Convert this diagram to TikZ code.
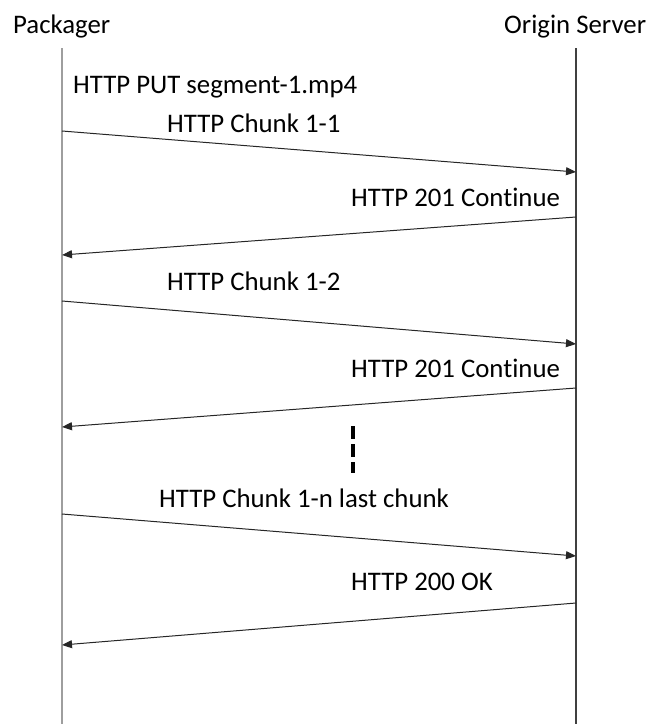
\documentclass[tikz,border=0pt]{standalone}
\usepackage{fontspec}
\setmainfont{Carlito}[Ligatures=NoCommon]
\usetikzlibrary{arrows.meta}
\begin{document}
\begin{tikzpicture}[x=1pt,y=-1pt,
    lifeline/.style={line width=1.3pt},
    msg/.style={line width=1pt,draw=black!85,-{Triangle[length=10pt,width=8pt]}},
    lbl/.style={anchor=base west,inner sep=0pt,font=\fontsize{26.8}{30}\selectfont}]
  \useasboundingbox (0,0) rectangle (648,724);
  % actors and lifelines
  \draw
    (13,33) node[lbl] (pack){Packager}
    (504,33) node[lbl] (orig){Origin Server};
  \coordinate (pTop) at (62,48);
  \coordinate (pBot) at (62,724);
  \coordinate (oTop) at (576,48);
  \coordinate (oBot) at (576,724);
  \draw[lifeline,draw=black!38] (pTop) -- (pBot);
  \draw[lifeline,draw=black!75] (oTop) -- (oBot);
  % message ends
  \coordinate (p1) at (62,131);  \coordinate (o1) at (576,172);
  \coordinate (o2) at (576,217); \coordinate (p2) at (62,255);
  \coordinate (p3) at (62,301);  \coordinate (o3) at (576,344);
  \coordinate (o4) at (576,388); \coordinate (p4) at (62,427);
  \coordinate (p5) at (62,514);  \coordinate (o5) at (576,556);
  \coordinate (o6) at (576,603); \coordinate (p6) at (62,645);
  % labels
  \draw
    (73,93) node[lbl] (put){HTTP PUT segment-1.mp4}
    (167,132) node[lbl] (c11){HTTP Chunk 1-1}
    (351,206) node[lbl] (r1){HTTP 201 Continue}
    (167,290) node[lbl] (c12){HTTP Chunk 1-2}
    (351,377) node[lbl] (r2){HTTP 201 Continue}
    (159,507) node[lbl] (c1n){HTTP Chunk 1-n last chunk}
    (351,590) node[lbl] (ok){HTTP 200 OK};
  \begin{scope}[msg]
    \draw (p1) to (o1);
    \draw (o2) to (p2);
    \draw (p3) to (o3);
    \draw (o4) to (p4);
    \draw (p5) to (o5);
    \draw (o6) to (p6);
  \end{scope}
  % more chunks
  \coordinate (dTop) at (353,426);
  \coordinate (dBot) at (353,473);
  \draw[line width=4pt,dash pattern=on 13pt off 5pt] (dTop) -- (dBot);
\end{tikzpicture}
\end{document}
